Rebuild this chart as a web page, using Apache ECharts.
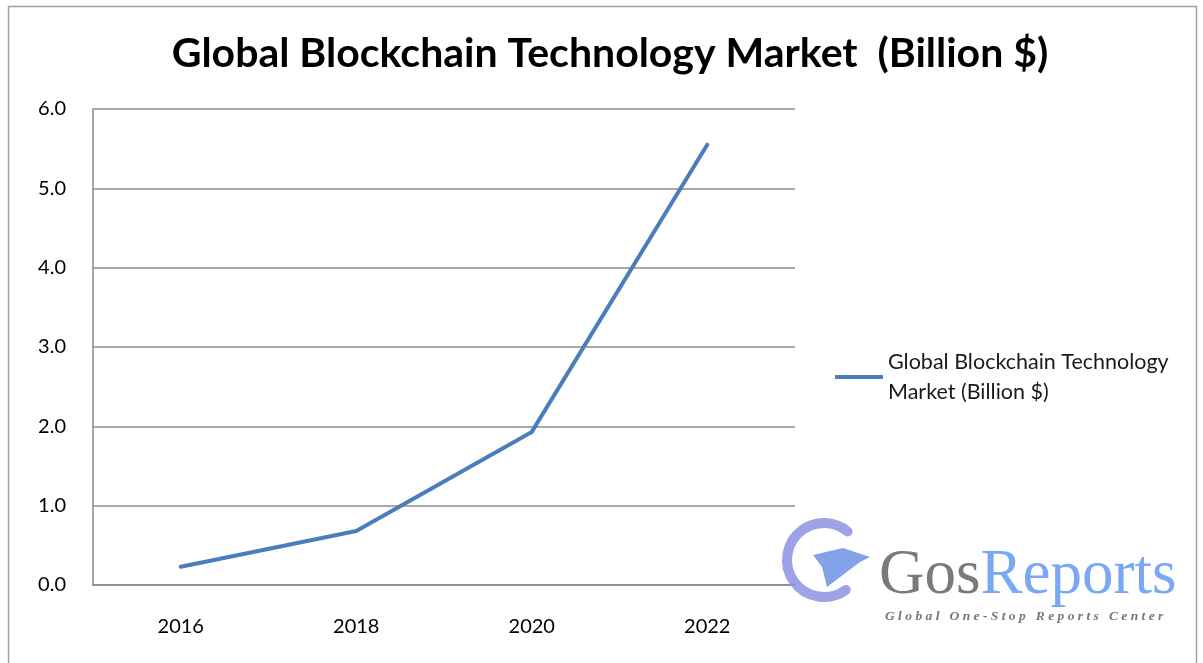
<!DOCTYPE html>
<html>
<head>
<meta charset="utf-8">
<script src="https://cdn.jsdelivr.net/npm/echarts@6/dist/echarts.min.js"></script>
<style>
html,body{margin:0;padding:0;background:#fff;}
#chart{width:1203px;height:663px;}
</style>
</head>
<body>
<div id="chart"></div>
<script>
const titleText = 'Global Blockchain Technology Market  (Billion $)';
const seriesName = 'Global Blockchain Technology Market (Billion $)';
const years = ['2016', '2018', '2020', '2022'];
const marketValues = [0.23, 0.68, 1.93, 5.55];
const yTicks = { min: 0, max: 6, interval: 1 };

const chart = echarts.init(document.getElementById('chart'), null, { renderer: 'canvas' });
const font = 'Lato, "Open Sans", sans-serif';
const serif = '"Liberation Serif", "DejaVu Serif", serif';
chart.setOption({
  backgroundColor: '#ffffff',
  animation: false,
  title: {
    text: titleText,
    left: 605, top: 28, textAlign: 'center',
    textStyle: { fontFamily: font, fontWeight: 'bold', fontSize: 41, color: '#000' }
  },
  grid: { left: 93, right: 408, top: 109, bottom: 78 },
  legend: {
    left: 830, top: 342, orient: 'vertical',
    icon: 'rect', itemWidth: 48, itemHeight: 4,
    itemGap: 8,
    data: [seriesName],
    formatter: () => 'Global Blockchain Technology\nMarket (Billion $)',
    textStyle: { fontFamily: font, fontSize: 21.5, color: '#1a1a1a', lineHeight: 30 }
  },
  xAxis: {
    type: 'category', data: years, boundaryGap: true,
    axisLine: { show: true, lineStyle: { color: '#888', width: 1.5 } },
    axisTick: { show: false },
    axisLabel: { fontFamily: font, fontSize: 20, color: '#000', margin: 32 }
  },
  yAxis: {
    type: 'value', min: yTicks.min, max: yTicks.max, interval: yTicks.interval,
    axisLine: { show: true, lineStyle: { color: '#888', width: 1.5 } },
    axisTick: { show: false },
    splitLine: { lineStyle: { color: '#8c8c8c', width: 1.5 } },
    axisLabel: { fontFamily: font, fontSize: 20, color: '#000', margin: 27, formatter: v => v.toFixed(1) }
  },
  series: [{
    name: seriesName, type: 'line', data: marketValues,
    showSymbol: false, symbol: 'none',
    lineStyle: { color: '#4a7ebb', width: 4, cap: 'round', join: 'round' },
    itemStyle: { color: '#4a7ebb' }
  }],
  graphic: [
    { type: 'rect', shape: { x: 8.5, y: 6.5, width: 1188, height: 680 }, style: { fill: 'none', stroke: '#a0a0a0', lineWidth: 1.5 }, z: -1 },
    { type: 'arc', shape: { cx: 824, cy: 560, r: 37, startAngle: Math.PI * 0.3, endAngle: Math.PI * 1.72, clockwise: true },
      style: { stroke: '#8c93e2', lineWidth: 10, fill: 'none', opacity: 0.85, lineCap: 'round' }, z: 10 },
    { type: 'polygon', shape: { points: [[813, 555], [843, 548], [870, 557], [860, 562], [827, 587], [822, 567]] },
      style: { fill: '#6f92e6', opacity: 0.85 }, z: 10 },
    { type: 'text', left: 879, top: 545, z: 10,
      style: { text: '{g|Gos}{r|Reports}', rich: {
        g: { fontFamily: serif, fontSize: 63, fill: '#7a7a7a' },
        r: { fontFamily: serif, fontSize: 63, fill: '#7aa8f5' } } } },
    { type: 'text', left: 885, top: 610, z: 10,
      style: { text: 'G l o b a l   O n e - S t o p   R e p o r t s   C e n t e r', fontFamily: serif, fontStyle: 'italic', fontWeight: 'bold', fontSize: 13.5, fill: '#777' } }
  ]
});
</script>
</body>
</html>
